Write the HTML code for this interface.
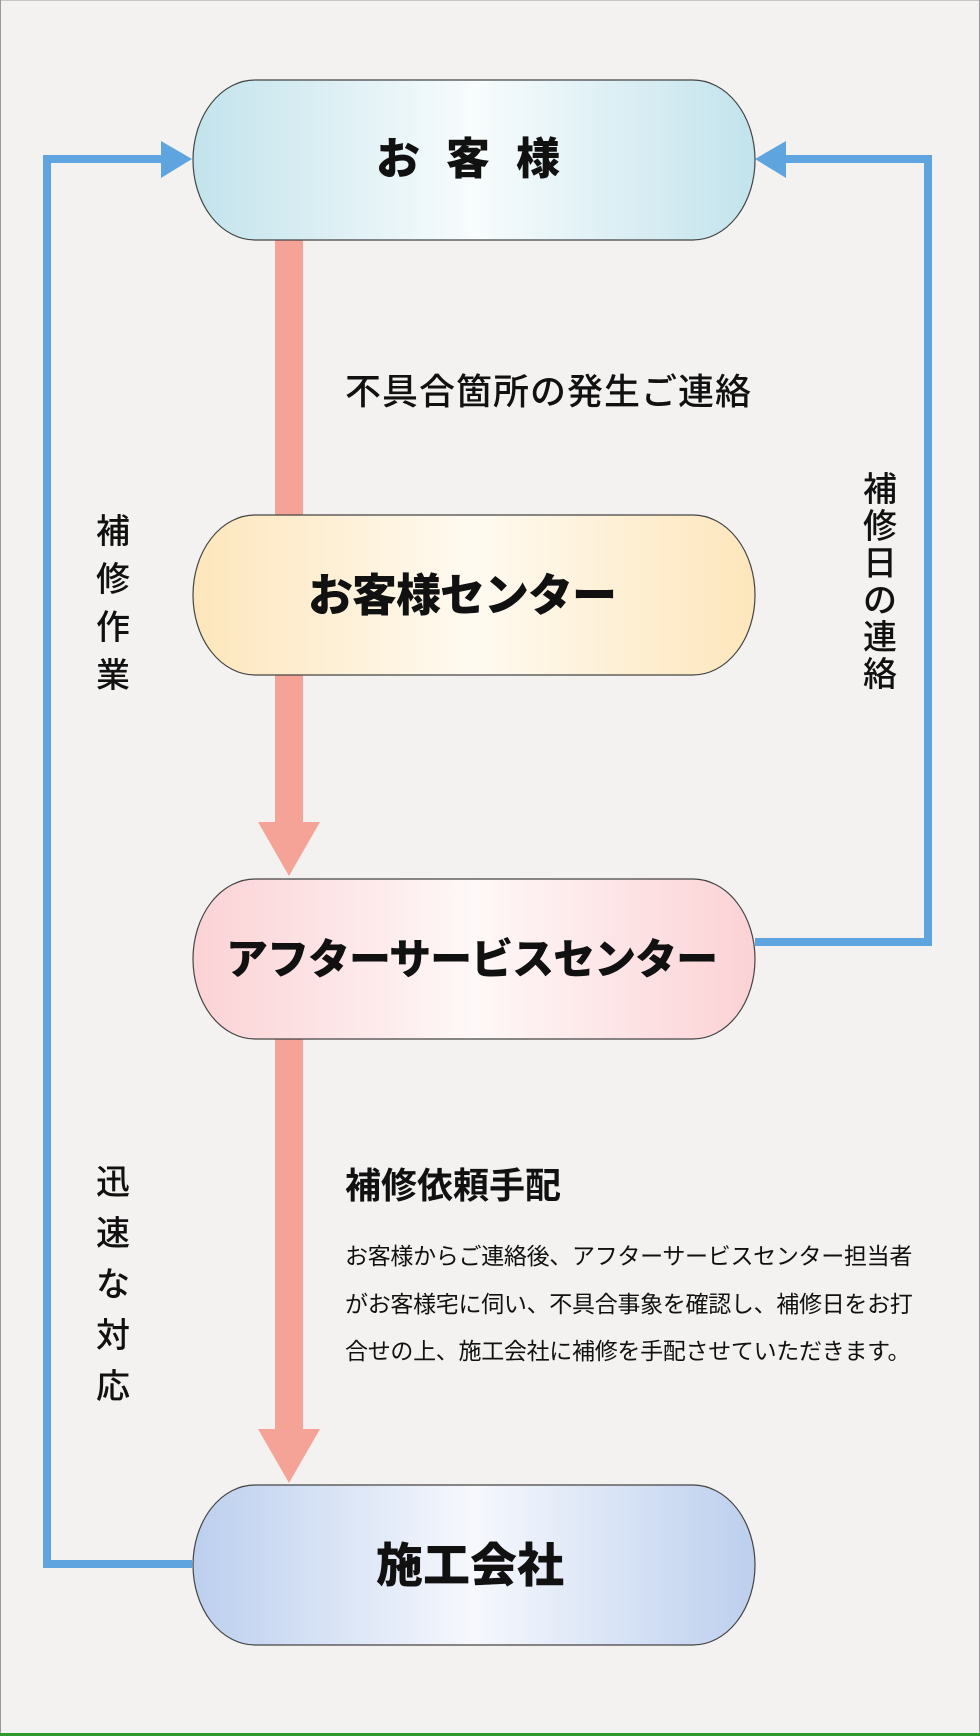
<!DOCTYPE html>
<html><head><meta charset="utf-8"><style>
html,body{margin:0;padding:0}
body{width:980px;height:1736px;background:#f3f2f0;position:relative;overflow:hidden;font-family:"Liberation Sans","Noto Sans CJK JP",sans-serif}
svg{position:absolute;left:0;top:0}
.t{position:absolute;white-space:nowrap;color:#111}
.v{position:absolute;font-size:34px;line-height:1;color:#111;width:40px;text-align:center;font-weight:500}
</style></head><body>
<svg width="980" height="1736" viewBox="0 0 980 1736">
<defs>
<linearGradient id="g1" x1="0" x2="1"><stop offset="0" stop-color="#c2e3ec"/><stop offset="0.5" stop-color="#f8fcfd"/><stop offset="1" stop-color="#c2e3ec"/></linearGradient>
<linearGradient id="g2" x1="0" x2="1"><stop offset="0" stop-color="#fde6bb"/><stop offset="0.5" stop-color="#fffaf1"/><stop offset="1" stop-color="#fde6bb"/></linearGradient>
<linearGradient id="g3" x1="0" x2="1"><stop offset="0" stop-color="#fbd2d5"/><stop offset="0.5" stop-color="#fff8f8"/><stop offset="1" stop-color="#fbd2d5"/></linearGradient>
<linearGradient id="g4" x1="0" x2="1"><stop offset="0" stop-color="#bccfee"/><stop offset="0.5" stop-color="#f6f8fd"/><stop offset="1" stop-color="#bccfee"/></linearGradient>
</defs>
<rect x="0.5" y="0" width="979" height="1736" fill="none" stroke="#999" stroke-width="1"/>
<rect x="0" y="1733" width="980" height="3" fill="#2c9a2c"/>
<polyline points="192,1564 47,1564 47,159 165,159" fill="none" stroke="#5ea5e0" stroke-width="8"/>
<polygon points="161,141 192,159 161,178" fill="#5ea5e0"/>
<polyline points="755,942 928,942 928,159 786,159" fill="none" stroke="#5ea5e0" stroke-width="8"/>
<polygon points="786,141 755,159 786,178" fill="#5ea5e0"/>
<rect x="275" y="235" width="28" height="290" fill="#f5a396"/>
<rect x="275" y="670" width="28" height="155" fill="#f5a396"/>
<polygon points="258,822 320,822 289,876" fill="#f5a396"/>
<rect x="275" y="1035" width="28" height="396" fill="#f5a396"/>
<polygon points="258,1429 320,1429 289,1483" fill="#f5a396"/>
<path d="M255,80 H693 A62,80 0 0 1 693,240 H255 A62,80 0 0 1 255,80 Z" fill="url(#g1)" stroke="#444" stroke-width="1.2"/>
<path d="M255,515 H693 A62,80 0 0 1 693,675 H255 A62,80 0 0 1 255,515 Z" fill="url(#g2)" stroke="#444" stroke-width="1.2"/>
<path d="M255,879 H693 A62,80 0 0 1 693,1039 H255 A62,80 0 0 1 255,879 Z" fill="url(#g3)" stroke="#444" stroke-width="1.2"/>
<path d="M255,1485 H693 A62,80 0 0 1 693,1645 H255 A62,80 0 0 1 255,1485 Z" fill="url(#g4)" stroke="#444" stroke-width="1.2"/>
</svg>
<div class="t" style="left:376px;top:134px;font-size:44px;font-weight:900;letter-spacing:26px;line-height:52px">お客様</div>
<div class="t" style="left:308px;top:570px;font-size:45px;font-weight:900;line-height:52px;letter-spacing:-1px">お客様センター</div>
<div class="t" style="left:226px;top:935px;font-size:42px;font-weight:900;line-height:50px;letter-spacing:-1px">アフターサービスセンター</div>
<div class="t" style="left:376px;top:1540px;font-size:47px;font-weight:900;line-height:52px">施工会社</div>
<div class="t" style="left:345px;top:372px;font-size:36px;line-height:40px;letter-spacing:1px;font-weight:500">不具合箇所の発生ご連絡</div>
<div class="v" style="left:93px;top:508px;line-height:48px">補<br>修<br>作<br>業</div>
<div class="v" style="left:860px;top:472px;line-height:37px">補<br>修<br>日<br>の<br>連<br>絡</div>
<div class="v" style="left:93px;top:1158px;line-height:51px">迅<br>速<br>な<br>対<br>応</div>
<div class="t" style="left:345px;top:1165px;font-size:36px;line-height:42px;font-weight:600">補修依頼手配</div>
<div class="t" style="left:345px;top:1233px;font-size:23px;line-height:47.5px;letter-spacing:-0.3px">お客様からご連絡後、アフターサービスセンター担当者<br>がお客様宅に伺い、不具合事象を確認し、補修日をお打<br>合せの上、施工会社に補修を手配させていただきます。</div>
</body></html>
